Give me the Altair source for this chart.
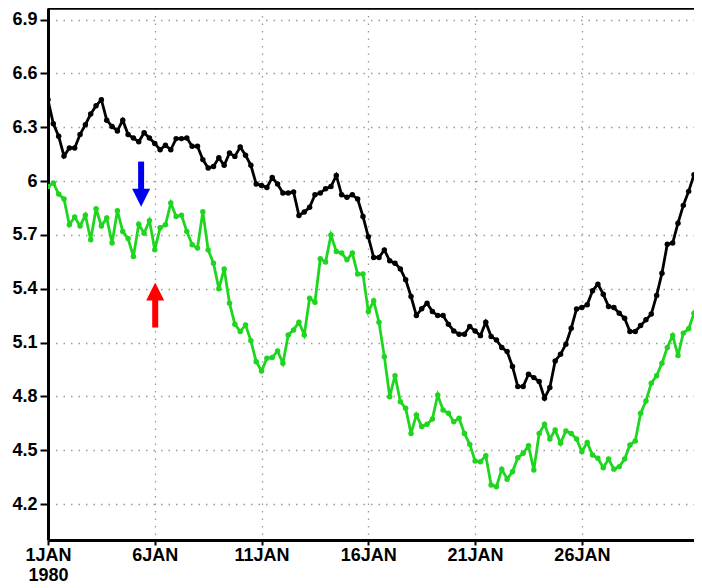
import json
import altair as alt
import pandas as pd

# ---- data (6-hourly, starting 1 Jan 1980 00Z) ----
black_vals = [
    6.454, 6.32, 6.25, 6.14, 6.185, 6.185, 6.26, 6.315, 6.374, 6.42,
    6.454, 6.34, 6.305, 6.28, 6.34, 6.26, 6.24, 6.22, 6.27, 6.24,
    6.21, 6.175, 6.20, 6.175, 6.237, 6.237, 6.24, 6.194, 6.194, 6.12,
    6.073, 6.082, 6.13, 6.088, 6.157, 6.138, 6.19, 6.144, 6.088, 5.984,
    5.976, 5.965, 6.02, 5.984, 5.934, 5.934, 5.94, 5.809, 5.828, 5.854,
    5.924, 5.934, 5.958, 5.97, 6.032, 5.924, 5.91, 5.924, 5.90, 5.803,
    5.69, 5.575, 5.575, 5.617, 5.556, 5.543, 5.511, 5.45, 5.357, 5.251,
    5.289, 5.32, 5.273, 5.251, 5.251, 5.203, 5.165, 5.147, 5.147, 5.19,
    5.165, 5.139, 5.214, 5.134, 5.115, 5.073, 5.05, 4.967, 4.855, 4.855,
    4.924, 4.905, 4.883, 4.79, 4.85, 4.998, 5.035, 5.091, 5.18, 5.288,
    5.296, 5.311, 5.389, 5.426, 5.37, 5.301, 5.296, 5.264, 5.236, 5.162,
    5.162, 5.195, 5.227, 5.259, 5.363, 5.487, 5.649, 5.655, 5.766, 5.865,
    5.943, 6.036, 6.05, 6.04,
]
green_vals = [
    5.97, 5.99, 5.928, 5.90, 5.757, 5.80, 5.75, 5.81, 5.673, 5.846,
    5.75, 5.794, 5.655, 5.835, 5.72, 5.68, 5.58, 5.76, 5.71, 5.78,
    5.617, 5.74, 5.757, 5.878, 5.803, 5.81, 5.72, 5.645, 5.627, 5.83,
    5.617, 5.543, 5.40, 5.511, 5.32, 5.203, 5.162, 5.199, 5.11, 4.994,
    4.942, 5.013, 5.017, 5.054, 4.985, 5.143, 5.171, 5.214, 5.143, 5.348,
    5.325, 5.567, 5.549, 5.70, 5.608, 5.599, 5.562, 5.599, 5.482, 5.482,
    5.273, 5.333, 5.214, 5.022, 4.799, 4.916, 4.771, 4.734, 4.594, 4.697,
    4.632, 4.645, 4.675, 4.808, 4.724, 4.706, 4.659, 4.678, 4.594, 4.533,
    4.44, 4.436, 4.47, 4.306, 4.297, 4.395, 4.339, 4.38, 4.459, 4.483,
    4.526, 4.39, 4.594, 4.645, 4.563, 4.613, 4.539, 4.608, 4.594, 4.563,
    4.492, 4.544, 4.474, 4.455, 4.403, 4.451, 4.395, 4.409, 4.451, 4.53,
    4.552, 4.706, 4.775, 4.874, 4.916, 4.985, 5.073, 5.14, 5.028, 5.153,
    5.177, 5.264, 5.19, 5.28,
]
series_names = ["black", "green"]
series_colors = ["#000000", "#1ed61e"]

tick_days = [0, 5, 10, 15, 20, 25]
tick_labels = [["1JAN", "1980"], "6JAN", "11JAN", "16JAN", "21JAN", "26JAN"]
y_ticks = [4.2, 4.5, 4.8, 5.1, 5.4, 5.7, 6.0, 6.3, 6.6, 6.9]

# annotation arrows (day offset, shaft top, shaft bottom, head centre)
arrow_day = [4.36, 5.02]
arrow_shaft_top = [6.109, 5.346]
arrow_shaft_bottom = [5.953, 5.184]
arrow_head = [5.908, 5.385]
arrow_color = ["#0000ee", "#ff0000"]
arrow_shape = ["M-1,-1L1,-1L0,1Z", "M-1,1L1,1L0,-1Z"]

# ---- build table ----
start = pd.Timestamp("1980-01-01 00:00")
rows = []
for name, vals in zip(series_names, [black_vals, green_vals]):
    times = pd.date_range(start, periods=len(vals), freq="6h")
    for t, v in zip(times, vals):
        rows.append({"day": (t - start) / pd.Timedelta(days=1), "value": v, "series": name})
df = pd.DataFrame(rows)

expr = "''"
for d, lab in reversed(list(zip(tick_days, tick_labels))):
    expr = f"datum.value == {d} ? {json.dumps(lab)} : ({expr})"

W, H = 646, 532
x_dom = [0, 30.25]
y_dom = [4.0, 6.965]

xscale = alt.Scale(domain=x_dom, nice=False, zero=False)
yscale = alt.Scale(domain=y_dom, nice=False, zero=False)

x_axis = alt.Axis(values=tick_days, labelExpr=expr, tickSize=5, labelPadding=1,
                  labelLineHeight=20, grid=True, title=None, labelFlush=False)
y_axis = alt.Axis(values=y_ticks, format=".1~f", tickSize=8, labelPadding=3,
                  grid=True, title=None)

color = alt.Color("series:N", scale=alt.Scale(domain=series_names, range=series_colors), legend=None)

base = alt.Chart(df).encode(
    x=alt.X("day:Q", scale=xscale, axis=x_axis),
    y=alt.Y("value:Q", scale=yscale, axis=y_axis),
    color=color,
)
lines = base.mark_line(strokeWidth=2.8, clip=True)
points = base.mark_circle(size=30, opacity=1, clip=True)

adf = pd.DataFrame({
    "day": arrow_day, "top": arrow_shaft_top, "bottom": arrow_shaft_bottom,
    "head": arrow_head, "color": arrow_color, "shape": arrow_shape,
})
shafts = alt.Chart(adf).mark_rule(strokeWidth=6, strokeCap="butt").encode(
    x=alt.X("day:Q", scale=xscale),
    y=alt.Y("top:Q", scale=yscale),
    y2="bottom:Q",
    color=alt.Color("color:N", scale=None),
)
heads = alt.Chart(adf).mark_point(filled=True, size=324, opacity=1, strokeWidth=0).encode(
    x=alt.X("day:Q", scale=xscale),
    y=alt.Y("head:Q", scale=yscale),
    color=alt.Color("color:N", scale=None),
    shape=alt.Shape("shape:N", scale=None),
)

top_border = alt.Chart(adf).mark_rule(color="black", strokeWidth=3).encode(
    x=alt.value(0), x2=alt.value(W), y=alt.value(0)
)

chart = alt.layer(lines, points, shafts, heads, top_border).properties(
    width=W, height=H,
    autosize=alt.AutoSizeParams(type="none"),
    padding={"left": 40, "top": 0, "right": 0, "bottom": 46},
    background="white",
).configure_view(stroke=None).configure_axis(
    labelFont="Liberation Sans", labelFontSize=18, labelFontWeight="bold",
    labelColor="black", domainColor="black", domainWidth=3,
    tickColor="black", tickWidth=2,
    gridColor="#9a9a9a", gridDash=[1.5, 6], gridWidth=1.3,
)

chart.save("out.html", embed_options={"renderer": "svg", "actions": False})
